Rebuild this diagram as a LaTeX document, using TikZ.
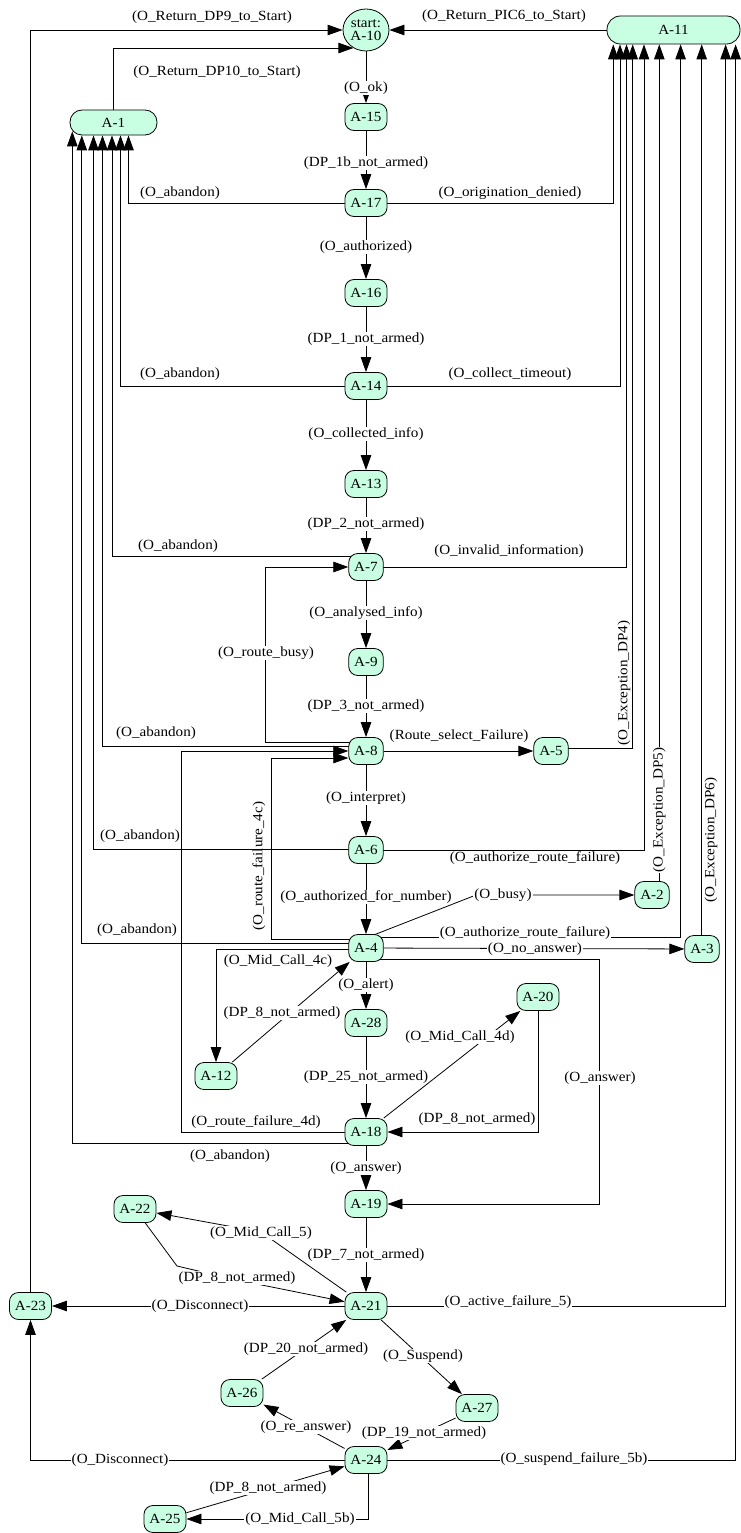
\documentclass[tikz,border=0pt]{standalone}
\usepackage{fontspec}
\setmainfont{Liberation Serif}[FakeStretch=1.08]
\usetikzlibrary{arrows.meta,shapes.geometric,calc}
\definecolor{mint}{RGB}{200,255,226}
\pgfdeclarelayer{bg}
\pgfsetlayers{bg,main}

\begin{document}
\begin{tikzpicture}[x=1pt,y=-1pt,
  every node/.style={font=\fontsize{14pt}{13pt}\selectfont},
  state/.style={draw=black, line width=0.8pt, fill=mint, rounded corners=9pt,
                minimum height=27pt, inner xsep=5.5pt, inner ysep=0pt},
  startstate/.style={draw=black, line width=0.8pt, fill=mint, ellipse,
                minimum width=46pt, minimum height=42pt, inner sep=0pt, align=center},
  conn/.style={draw=black, line width=0.8pt, -{Triangle[length=15pt,width=10.5pt]}},
  onlbl/.style={fill=white, inner sep=1pt},
  sidelbl/.style={inner sep=0pt},
]
\useasboundingbox (0,0) rectangle (741,1533);

% ---------- states ----------
\node[startstate] (A10) at (366,30) {start:\\A-10};
\node[state, minimum width=133pt, minimum height=28pt, rounded corners=13.5pt] (A11) at (673.5,30) {A-11};
\node[state, minimum width=87pt, minimum height=25pt, rounded corners=12pt] (A1) at (113.5,122.5) {A-1};
\node[state] (A15) at (366,117) {A-15};
\node[state] (A17) at (366,203) {A-17};
\node[state] (A16) at (366,293) {A-16};
\node[state] (A14) at (366,386) {A-14};
\node[state] (A13) at (366,484) {A-13};
\node[state] (A7)  at (366,567) {A-7};
\node[state] (A9)  at (366,662) {A-9};
\node[state] (A8)  at (366,751) {A-8};
\node[state] (A5)  at (551,751) {A-5};
\node[state] (A6)  at (366,850) {A-6};
\node[state] (A2)  at (652,895) {A-2};
\node[state] (A3)  at (702,949) {A-3};
\node[state] (A4)  at (366,948) {A-4};
\node[state] (A20) at (538,997) {A-20};
\node[state] (A28) at (366,1023) {A-28};
\node[state] (A12) at (216,1076) {A-12};
\node[state] (A18) at (366,1132) {A-18};
\node[state] (A19) at (366,1204) {A-19};
\node[state] (A22) at (135,1209) {A-22};
\node[state] (A21) at (366,1306) {A-21};
\node[state] (A23) at (30.5,1306) {A-23};
\node[state] (A26) at (242,1393) {A-26};
\node[state] (A27) at (477,1408) {A-27};
\node[state] (A24) at (366,1460) {A-24};
\node[state] (A25) at (165,1519) {A-25};

% ---------- lanes ----------
% lanes rising into A-1
\coordinate (ab18) at (72.3,0);
\coordinate (ab4)  at (81.8,0);
\coordinate (ab6)  at (93.5,0);
\coordinate (ab8)  at (102.5,0);
\coordinate (ab7)  at (112,0);
\coordinate (ab14) at (120.5,0);
\coordinate (ab17) at (128.5,0);
\coordinate (A1corner) at ($(A1.south)+(0,-4)$);
% lanes rising into A-11
\coordinate (ex17) at (613.3,0);
\coordinate (ex14) at (620,0);
\coordinate (ex7)  at (626.5,0);
\coordinate (ex5)  at (632.7,0);
\coordinate (ex6)  at (644,0);
\coordinate (ex2)  at (659.3,0);
\coordinate (ex4)  at (680.6,0);
\coordinate (ex3)  at (701.7,0);
\coordinate (ex21) at (725.6,0);
\coordinate (ex24) at (735.6,0);
% other lanes and bends
\coordinate (rbusy) at (265,0);
\coordinate (rf4c)  at (271,0);
\coordinate (rf4d)  at (181,0);
\coordinate (ansx)  at (599,0);
\coordinate (A8lo)  at ($(A8.west)+(0,7)$);
\coordinate (busyb) at (476,895);
\coordinate (mc5b)  at (261,1232);
\coordinate (dp8a)  at (177,1266);
\coordinate (dp8b)  at (237,1280);

\begin{pgfonlayer}{bg}
\fill[white] (0,0) rectangle (741,1533);

% returns to start
\draw[conn] (A23.north) |- (A10.west)
  node[sidelbl] (tDP9) at (212,17) {(O\_Return\_DP9\_to\_Start)};
\draw[conn] (A11.west) -- (A10.east)
  node[sidelbl] (tPIC6) at (504,16) {(O\_Return\_PIC6\_to\_Start)};
\draw[conn] (A1.north) |- (A10.-125)
  node[sidelbl] (tDP10) at (217,72) {(O\_Return\_DP10\_to\_Start)};

% main chain
\draw[conn] (A10) -- (A15) node[onlbl] (t1) at (366,88) {(O\_ok)};
\draw[conn] (A15) -- (A17) node[onlbl] (t2) at (366,163) {(DP\_1b\_not\_armed)};
\draw[conn] (A17) -- (A16) node[onlbl] (t3) at (366,247) {(O\_authorized)};
\draw[conn] (A16) -- (A14) node[onlbl] (t4) at (366,339) {(DP\_1\_not\_armed)};
\draw[conn] (A14) -- (A13) node[onlbl] (t5) at (366,434) {(O\_collected\_info)};
\draw[conn] (A13) -- (A7)  node[onlbl] (t6) at (366,524) {(DP\_2\_not\_armed)};
\draw[conn] (A7)  -- (A9)  node[onlbl] (t7) at (366,613) {(O\_analysed\_info)};
\draw[conn] (A9)  -- (A8)  node[onlbl] (t8) at (366,706) {(DP\_3\_not\_armed)};
\draw[conn] (A8)  -- (A6)  node[onlbl] (t9) at (366,798) {(O\_interpret)};
\draw[conn] (A6)  -- (A4)  node[onlbl] (t10) at (366,897) {(O\_authorized\_for\_number)};
\draw[conn] (A4)  -- (A28) node[onlbl] (t11) at (366,985) {(O\_alert)};
\draw[conn] (A28) -- (A18) node[onlbl] (t12) at (366,1077) {(DP\_25\_not\_armed)};
\draw[conn] (A18) -- (A19) node[onlbl] (t13) at (366,1168) {(O\_answer)};
\draw[conn] (A19) -- (A21) node[onlbl] (t14) at (366,1255) {(DP\_7\_not\_armed)};

% abandon transitions into A-1
\draw[conn] (A17.center) -| (ab17 |- A1.south)
  node[sidelbl] (ab17t) at (180,193) {(O\_abandon)};
\draw[conn] (A14.center) -| (ab14 |- A1.south)
  node[sidelbl] (ab14t) at (180,374) {(O\_abandon)};
\draw[conn] ($(A7.center)+(0,-11)$) -| (ab7 |- A1.south)
  node[sidelbl] (ab7t) at (178,546) {(O\_abandon)};
\draw[conn] ($(A8.center)+(0,-5)$) -| (ab8 |- A1.south)
  node[sidelbl] (ab8t) at (156,733) {(O\_abandon)};
\draw[conn] ($(A6.center)+(0,-1)$) -| (ab6 |- A1.south)
  node[sidelbl] (ab6t) at (140,836) {(O\_abandon)};
\draw[conn] ($(A4.center)+(0,-5)$) -| (ab4 |- A1.south)
  node[sidelbl] (ab4t) at (137,930) {(O\_abandon)};
\draw[conn] ($(A18.center)+(0,11)$) -| (ab18 |- A1corner)
  node[sidelbl] (ab18t) at (230,1156) {(O\_abandon)};

% transitions into A-11
\draw[conn] (A17.center) -| (ex17 |- A11.south)
  node[sidelbl] (ex17t) at (510,193) {(O\_origination\_denied)};
\draw[conn] (A14.center) -| (ex14 |- A11.south)
  node[sidelbl] (ex14t) at (510,374) {(O\_collect\_timeout)};
\draw[conn] (A7.center) -| (ex7 |- A11.south)
  node[sidelbl] (ex7t) at (509,551) {(O\_invalid\_information)};
\draw[conn] ($(A5.center)+(0,-3)$) -| (ex5 |- A11.south)
  node[sidelbl, rotate=90] (ex5t) at (624,683) {(O\_Exception\_DP4)};
\draw[conn] (A6.center) -| (ex6 |- A11.south)
  node[sidelbl] (ex6t) at (535,858) {(O\_authorize\_route\_failure)};
\draw[conn] (ex2 |- A2.north) -- (ex2 |- A11.south)
  node[onlbl, rotate=90] (ex2t) at (659.3,810) {(O\_Exception\_DP5)};
\draw[conn] ($(A4.center)+(0,-11)$) -| (ex4 |- A11.south)
  node[onlbl] (ex4t) at (525,933) {(O\_authorize\_route\_failure)};
\draw[conn] (ex3 |- A3.north) -- (ex3 |- A11.south)
  node[sidelbl, rotate=90] (ex3t) at (711,840) {(O\_Exception\_DP6)};
\draw[conn] (A21.center) -| (ex21 |- A11.south)
  node[onlbl] (ex21t) at (508,1302) {(O\_active\_failure\_5)};
\draw[conn] (A24.center) -| (ex24 |- A11.south)
  node[onlbl] (ex24t) at (574,1459) {(O\_suspend\_failure\_5b)};

% routing around A-8
\draw[conn] ($(A8.center)+(0,-9)$) -| (rbusy |- A7) -- (A7.west)
  node[onlbl] (rbt) at (266,653) {(O\_route\_busy)};
\draw[conn] (A8) -- (A5)
  node[sidelbl] (rsf) at (459,736) {(Route\_select\_Failure)};
\draw[conn] ($(A4.center)+(0,-9)$) -| (rf4c |- A8lo) -- (A8lo)
  node[sidelbl, rotate=90] (rf4ct) at (259,866) {(O\_route\_failure\_4c)};
\draw[conn] (A18.west) -| (rf4d |- A8.west) -- (A8.west)
  node[sidelbl] (rf4dt) at (256,1122) {(O\_route\_failure\_4d)};

% around A-4
\draw[conn] ($(A4.center)+(0,-10)$) -- (busyb) -- (A2)
  node[onlbl] (busyt) at (503,895) {(O\_busy)};
\draw[conn] (A4) -- (A3)
  node[onlbl] (noans) at (535,949) {(O\_no\_answer)};
\draw[conn] ($(A4.center)+(0,11)$) -| (ansx |- A19) -- (A19.east)
  node[onlbl] (anst) at (600,1078) {(O\_answer)};
\draw[conn] ($(A4.center)+(0,1)$) -| (A12.north)
  node[sidelbl] (mc4c) at (278,961) {(O\_Mid\_Call\_4c)};
\draw[conn] (A12) -- (A4)
  node[onlbl] (dp8c) at (282,1013) {(DP\_8\_not\_armed)};
\draw[conn] (A18) -- (A20)
  node[onlbl] (mc4d) at (460,1037) {(O\_Mid\_Call\_4d)};
\draw[conn] (A20.south) |- (A18.east)
  node[sidelbl] (dp8d) at (477,1119) {(DP\_8\_not\_armed)};

% active phase
\draw[conn] (A21) -- (mc5b) -- (A22)
  node[onlbl] (mc5t) at (261,1233) {(O\_Mid\_Call\_5)};
\draw[conn] (A22) -- (dp8a) -- (dp8b) -- (A21)
  node[onlbl] (dp8e) at (237,1278) {(DP\_8\_not\_armed)};
\draw[conn] (A21) -- (A23)
  node[onlbl] (disc1) at (200,1306) {(O\_Disconnect)};
\draw[conn] (A21) -- (A27)
  node[onlbl] (susp) at (423,1356) {(O\_Suspend)};
\draw[conn] (A26) -- (A21)
  node[onlbl] (dp20) at (306,1349) {(DP\_20\_not\_armed)};
\draw[conn] (A27) -- (A24)
  node[onlbl] (dp19) at (424,1433) {(DP\_19\_not\_armed)};
\draw[conn] (A24) -- (A26)
  node[onlbl] (rean) at (306,1427) {(O\_re\_answer)};
\draw[conn] (A24.center) -| (A23.south)
  node[onlbl] (disc2) at (120,1460) {(O\_Disconnect)};
\draw[conn] (A25) -- (A24)
  node[onlbl] (dp8f) at (268,1488) {(DP\_8\_not\_armed)};
\draw[conn] ($(A24.center)+(2,0)$) |- (A25.east)
  node[onlbl] (mc5bt) at (300,1519) {(O\_Mid\_Call\_5b)};
\end{pgfonlayer}
\end{tikzpicture}
\end{document}
